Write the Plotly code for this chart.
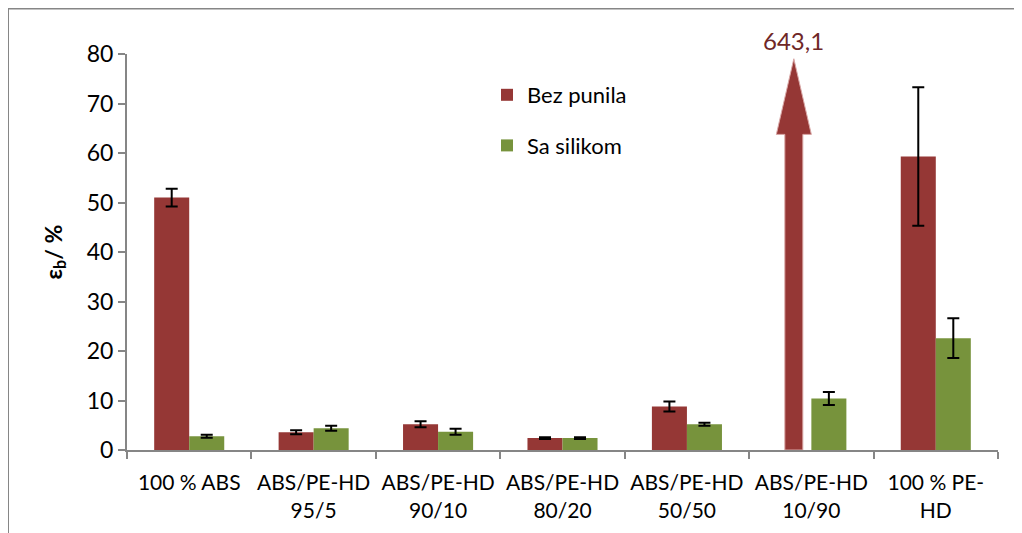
import plotly.graph_objects as go

categories = ["100 % ABS", "ABS/PE-HD<br>95/5", "ABS/PE-HD<br>90/10", "ABS/PE-HD<br>80/20",
              "ABS/PE-HD<br>50/50", "ABS/PE-HD<br>10/90", "100 % PE-<br>HD"]
bez_punila = [51.0, 3.6, 5.2, 2.4, 8.8, None, 59.3]
bez_err = [1.8, 0.4, 0.6, 0.2, 1.0, None, 14.0]
sa_silikom = [2.8, 4.4, 3.7, 2.4, 5.2, 10.4, 22.6]
sa_err = [0.3, 0.5, 0.6, 0.2, 0.3, 1.3, 4.0]
off_scale_value = 643.1
off_scale_index = 5
y_ticks = [0, 10, 20, 30, 40, 50, 60, 70, 80]

RED = "#953735"
GREEN = "#77933C"
AXIS = "#868686"
FONT = "Lato"

W, H = 1022, 533
ML, MR, MT, MB = 119, 32, 46, 91
pw, ph = W - ML - MR, H - MT - MB

bargap = 0.437
bar_w = (1 - bargap) / 2

fig = go.Figure()
fig.add_trace(go.Bar(x=categories, y=bez_punila, name="Bez punila", marker_color=RED,
                     marker_line_width=0, legendgroup="a",
                     error_y=dict(type="data", array=bez_err, color="black", thickness=2, width=6)))
fig.add_trace(go.Bar(x=categories, y=sa_silikom, name="Sa silikom", marker_color=GREEN,
                     marker_line_width=0, legendgroup="b",
                     error_y=dict(type="data", array=sa_err, color="black", thickness=2, width=6)))

# off-scale arrow for the missing red bar
cx = off_scale_index - bar_w / 2
sh = 9 / pw * 7          # shaft half-width in category units
hh = 17.5 / pw * 7       # head half-width
y_top = y_ticks[-1]
shaft_top = y_top * 0.797
tip = y_top * 0.988
path = (f"M {cx - sh} 0 L {cx - sh} {shaft_top} L {cx - hh} {shaft_top} L {cx} {tip} "
        f"L {cx + hh} {shaft_top} L {cx + sh} {shaft_top} L {cx + sh} 0 Z")
fig.add_shape(type="path", path=path, xref="x", yref="y", fillcolor=RED,
              line=dict(color="#d9a7a6", width=1))
fig.add_annotation(x=cx, y=y_top, xref="x", yref="y", text=str(off_scale_value).replace(".", ","),
                   showarrow=False, yanchor="middle", yshift=14,
                   font=dict(family=FONT, size=24, color="#6f2727"))

# outer chart frame (left and top edges visible)
fig.add_shape(type="rect", xref="paper", yref="paper",
              x0=(0 - ML) / pw, x1=(W + 20 - ML) / pw,
              y0=-(MB + 20) / ph, y1=(H - 0.5 - MB) / ph,
              line=dict(color=AXIS, width=2), fillcolor="rgba(0,0,0,0)", layer="below")

fig.update_layout(
    width=W, height=H,
    margin=dict(l=ML, r=MR, t=MT, b=MB),
    paper_bgcolor="white", plot_bgcolor="white",
    barmode="group", bargap=bargap, bargroupgap=0,
    font=dict(family=FONT, size=21, color="black"),
    showlegend=True,
    legend=dict(x=(479 - ML) / pw, y=(H - MB - 66) / ph, xanchor="left", yanchor="top",
                font=dict(family=FONT, size=22), tracegroupgap=19, traceorder="grouped",
                bgcolor="rgba(0,0,0,0)"),
    xaxis=dict(type="category", range=[-0.5, 6.5], showline=True, linecolor=AXIS, linewidth=2,
               ticks="outside", tickson="boundaries", ticklen=7, tickcolor=AXIS, tickwidth=2,
               ticklabelstandoff=13, tickangle=0, automargin=False,
               showgrid=False, tickfont=dict(family=FONT, size=21), fixedrange=True),
    yaxis=dict(range=[0, 80], tickvals=y_ticks, showline=True, linecolor=AXIS, linewidth=2,
               ticks="outside", ticklen=7, tickcolor=AXIS, tickwidth=2, showgrid=False,
               zeroline=False, tickfont=dict(family=FONT, size=23), automargin=False,
               title=dict(text="<b>ε<sub>b</sub>/ %</b>", font=dict(family=FONT, size=23), standoff=18)),
)

fig.write_html("out.html")
